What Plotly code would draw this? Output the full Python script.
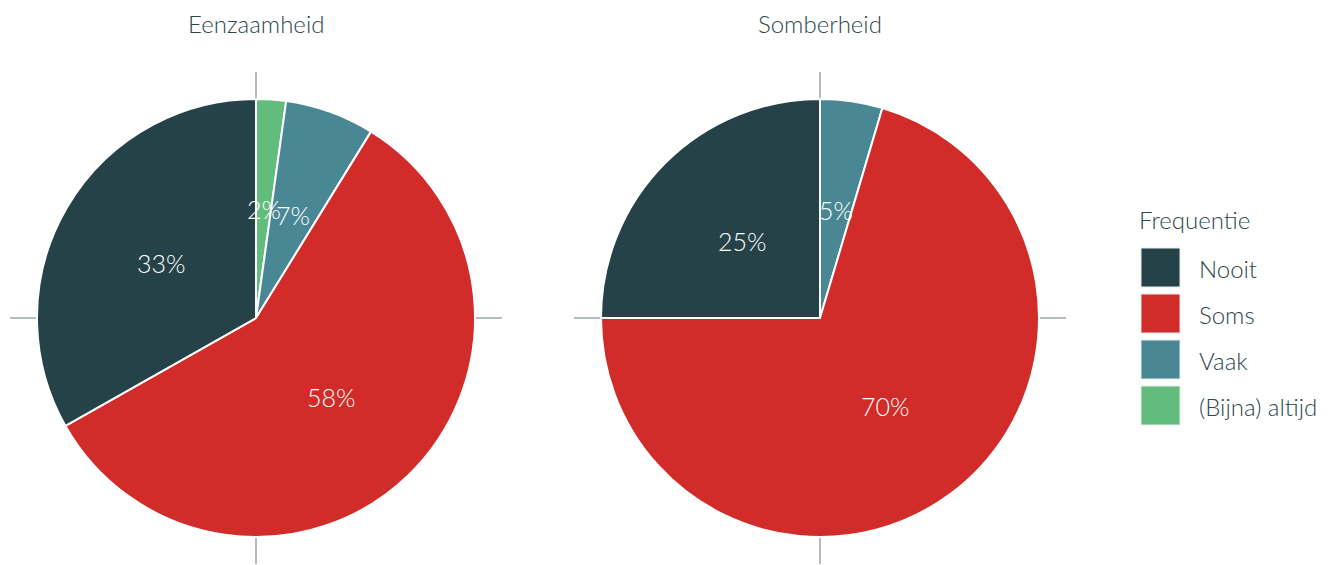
import numpy as np
import plotly.graph_objects as go

W, H = 1342, 565

categories = ['Nooit', 'Soms', 'Vaak', '(Bijna) altijd']
colors = ['#264249', '#d12c29', '#4a8794', '#62bd7d']
titles = ['Eenzaamheid', 'Somberheid']
eenzaamheid = [33.2, 58.0, 6.6, 2.2]
somberheid = [25.0, 70.4, 4.6, 0.0]
series = [eenzaamheid, somberheid]

FONT = 'Lato'
TXT = '#2c464d'
LINE = '#b3bcbf'
OFF = 8  # page body margin

# pie geometry in pixels (center x, center y from top, radius, cross half-length)
centers = [256, 820]
cy = 318
R = 219
CROSS = 246


def px(x):
    return (x - OFF) / W


def py(y):
    return 1 - (y - OFF) / H


fig = go.Figure()
for i, (vals, title) in enumerate(zip(series, titles)):
    cx = centers[i]
    # drawn clockwise from 12 o'clock in reversed order == counterclockwise in legend order
    fig.add_trace(go.Pie(
        labels=categories[::-1], values=vals[::-1], sort=False, direction='clockwise',
        marker=dict(colors=colors[::-1], line=dict(color='white', width=2)),
        textinfo='none', hoverinfo='label+percent', showlegend=False,
        domain=dict(x=[px(cx - R), px(cx + R)], y=[py(cy + R), py(cy - R)]),
    ))
    ax = '' if i == 0 else str(i + 1)
    fig.update_layout(**{
        'xaxis' + ax: dict(domain=[px(cx - CROSS), px(cx + CROSS)], range=[-CROSS / R, CROSS / R],
                           showgrid=False, showticklabels=False, zeroline=True,
                           zerolinecolor=LINE, zerolinewidth=1.5, fixedrange=True),
        'yaxis' + ax: dict(domain=[py(cy + CROSS), py(cy - CROSS)], range=[-CROSS / R, CROSS / R],
                           showgrid=False, showticklabels=False, zeroline=True,
                           zerolinecolor=LINE, zerolinewidth=1.5, fixedrange=True),
    })
    # invisible point so the axes are drawn
    fig.add_trace(go.Scatter(x=[0], y=[0], mode='markers', marker=dict(opacity=0),
                             xaxis='x' + ax, yaxis='y' + ax, showlegend=False, hoverinfo='skip'))
    # percent labels at half radius, slice mid-angle (counterclockwise from 12 o'clock)
    total = sum(vals)
    cum = 0
    for v in vals:
        mid = (cum + v / 2) / total * 2 * np.pi
        cum += v
        if v <= 0:
            continue
        fig.add_annotation(x=-0.5 * np.sin(mid), y=0.5 * np.cos(mid), xref='x' + ax, yref='y' + ax,
                           text=f'{round(v / total * 100)}%', showarrow=False,
                           xanchor='center', yanchor='middle',
                           font=dict(family=FONT, size=25, color='white', weight=300))
    fig.add_annotation(x=px(cx), y=1, xref='paper', yref='paper', text=title,
                       showarrow=False, xanchor='center', yanchor='top', borderpad=0,
                       font=dict(family=FONT, size=24, color=TXT, weight=300))

# legend
fig.add_annotation(x=px(1137), y=py(219), xref='paper', yref='paper', xanchor='left', yanchor='middle',
                   text='Frequentie', showarrow=False, font=dict(family=FONT, size=24, color=TXT, weight=300))
for k, (cat, col) in enumerate(zip(categories, colors)):
    top = 248 + 46 * k
    fig.add_shape(type='rect', xref='paper', yref='paper', x0=px(1141), x1=px(1180),
                  y0=py(top + 39), y1=py(top), fillcolor=col, line=dict(color='#e8ecec', width=1))
    fig.add_annotation(x=px(1197), y=py(top + 20), xref='paper', yref='paper', xanchor='left',
                       yanchor='middle', text=cat, showarrow=False,
                       font=dict(family=FONT, size=24, color=TXT, weight=300))

fig.update_layout(width=W, height=H, margin=dict(l=0, r=0, t=0, b=0),
                  paper_bgcolor='white', plot_bgcolor='white', showlegend=False)
fig.write_html('out.html')
